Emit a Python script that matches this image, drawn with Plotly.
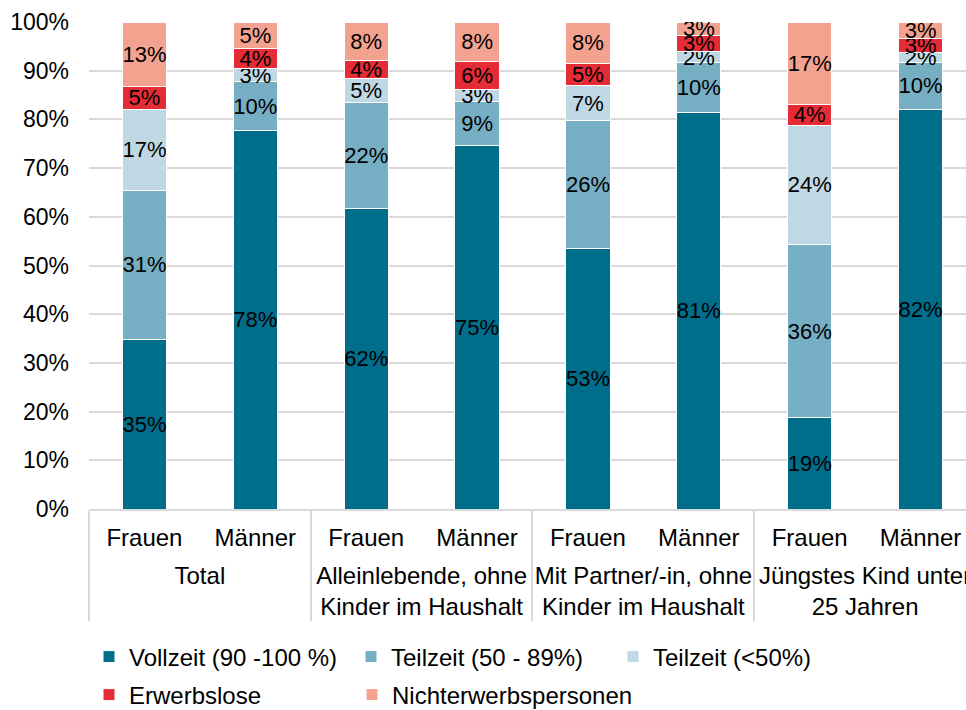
import plotly.graph_objects as go

groups = ["Total", "Total",
          "Alleinlebende, ohne<br>Kinder im Haushalt", "Alleinlebende, ohne<br>Kinder im Haushalt",
          "Mit Partner/-in, ohne<br>Kinder im Haushalt", "Mit Partner/-in, ohne<br>Kinder im Haushalt",
          "Jüngstes Kind unter<br>25 Jahren", "Jüngstes Kind unter<br>25 Jahren"]
sexes = ["Frauen", "Männer"] * 4

vollzeit = [34.9, 77.8, 61.8, 74.7, 53.4, 81.4, 18.7, 82.1]
teilzeit_50_89 = [30.6, 9.9, 21.6, 8.9, 26.3, 10.2, 35.7, 9.6]
teilzeit_lt50 = [16.6, 2.8, 5.0, 2.6, 7.2, 2.4, 24.4, 2.0]
erwerbslose = [4.6, 4.1, 3.7, 5.7, 4.6, 3.2, 4.3, 2.9]
nichterwerbs = [13.3, 5.4, 7.9, 8.1, 8.4, 2.8, 16.8, 3.4]

series = [
    ("Vollzeit (90 -100 %)", vollzeit, "#006D8B", "legend"),
    ("Teilzeit (50 - 89%)", teilzeit_50_89, "#76AEC4", "legend"),
    ("Teilzeit (<50%)", teilzeit_lt50, "#BFD8E3", "legend"),
    ("Erwerbslose", erwerbslose, "#E52B35", "legend2"),
    ("Nichterwerbspersonen", nichterwerbs, "#F4A290", "legend3"),
]

FONT = "Liberation Sans, Arial, sans-serif"

# invisible wide-line spacer to leave room between the two label levels
SP = '<span style="font-size:38px">\u00a0</span>'
sex_labels = [SP + s + SP for s in sexes]

fig = go.Figure()
for name, vals, color, leg in series:
    fig.add_trace(go.Bar(
        x=[groups, sex_labels], y=vals, name=name,
        marker=dict(color=color, line=dict(color="white", width=1)),
        texttemplate="%{y:.0f}%", textposition="inside", textangle=0,
        insidetextanchor="middle", constraintext="none",
        textfont=dict(color="black", size=22, family=FONT),
        legend=leg, hoverinfo="skip",
    ))

legend_common = dict(orientation="h", xref="container", yref="container",
                     xanchor="left", yanchor="middle",
                     traceorder="normal", bgcolor="rgba(0,0,0,0)",
                     font=dict(size=24, family=FONT, color="black"))

fig.update_layout(
    width=966, height=710,
    barmode="stack", bargap=0.6,
    plot_bgcolor="white", paper_bgcolor="white",
    font=dict(family=FONT, size=22, color="black"),
    margin=dict(l=89, r=0, t=22, b=201, autoexpand=False),
    showlegend=True,
    legend=dict(x=89/966, y=1 - 657/710, entrywidth=217, **legend_common),
    legend2=dict(x=89/966, y=1 - 695/710, **legend_common),
    legend3=dict(x=352/966, y=1 - 695/710, **legend_common),
)

fig.update_yaxes(range=[0, 100], dtick=10, ticksuffix="%",
                 showgrid=True, gridcolor="#D9D9D9", gridwidth=1.5,
                 zeroline=False, ticklabelstandoff=19, automargin=False,
                 tickfont=dict(size=23, family=FONT, color="black"))
fig.update_xaxes(type="multicategory", range=[-0.5, 7.41], automargin=False,
                 showline=True, linecolor="#D9D9D9", linewidth=1.5,
                 showdividers=True, dividercolor="#D9D9D9", dividerwidth=1.5,
                 ticklabelstandoff=6,
                 tickfont=dict(size=24, family=FONT, color="black"))

fig.write_html("out.html", config={"displayModeBar": False},
               post_script="document.body.style.margin='0';")
